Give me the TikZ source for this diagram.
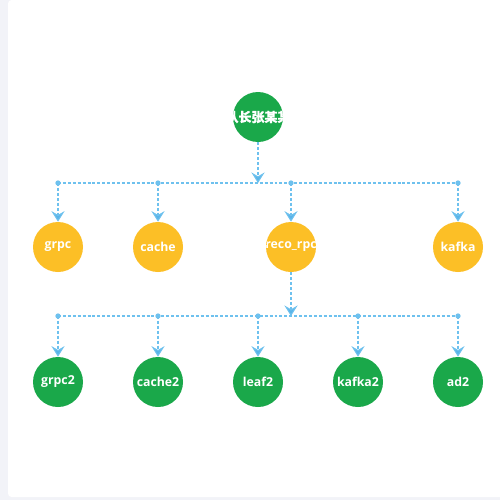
\documentclass[tikz,border=0pt]{standalone}
\usepackage{fontspec}
\setsansfont{Open Sans}
\newfontfamily\cjk{Noto Sans CJK SC}[FakeBold=0.8]
\usepackage{tikz}
\usetikzlibrary{arrows.meta,positioning}
\definecolor{leafgreen}{HTML}{1AA84A}
\definecolor{midyellow}{HTML}{FCBF26}
\definecolor{linkblue}{HTML}{6EC1EE}
\definecolor{tipblue}{HTML}{5AB4E8}
\definecolor{pagegray}{HTML}{F2F3F8}

\begin{document}
\begin{tikzpicture}[x=0.2mm, y=-0.2mm,
        member/.style={circle, minimum size=10mm, inner sep=0pt, text=white, font=\sffamily\bfseries\fontsize{7}{8}\selectfont},
        greenball/.style={member, fill=leafgreen},
        yellowball/.style={member, fill=midyellow},
        clipped/.style={path picture={\node[text=white] at (path picture bounding box.center) {#1};}},
        bus/.style={draw=linkblue, line width=0.6pt, dash pattern=on 1.7pt off 1.1pt},
        link/.style={bus, -{Stealth[length=6pt, width=7.5pt, inset=2.2pt, fill=tipblue]}},
        dot/.style={circle, fill=linkblue, inner sep=0pt, minimum size=3pt}
    ]
    \useasboundingbox (0,0) rectangle (500,500);
    % Fond et carte
    \fill[pagegray] (0,0) rectangle (500,500);
    \fill[white, rounded corners=2pt] (8,0) rectangle (520,497);

    % Racine
    \node[greenball, clipped={\cjk\fontsize{7.4}{8}\selectfont 队长张某某}] (root) at (258,117) {};

    % Niveau 1
    \node[yellowball] (grpc) at (58,247) {grpc};
    \node[yellowball] (cache) at (158,247) {cache};
    \node[yellowball, clipped={reco\_rpc}] (reco) at (291,247) {};
    \node[yellowball] (kafka) at (458,247) {kafka};

    % Niveau 2
    \node[greenball] (grpc2) at (58,382) {grpc2};
    \node[greenball] (cache2) at (158,382) {cache2};
    \node[greenball] (leaf2) at (258,382) {leaf2};
    \node[greenball] (kafka2) at (358,382) {kafka2};
    \node[greenball] (ad2) at (458,382) {ad2};

    % Bus du premier niveau
    \coordinate (hub1) at (258,183);
    \node[dot] (a1) at (58,183) {};
    \node[dot] (a2) at (158,183) {};
    \node[dot] (a3) at (291,183) {};
    \node[dot] (a4) at (458,183) {};
    \draw[bus] (a1.center) -- (a4.center);
    \draw[link] (root) -- (hub1);
    \draw[link] (a1.center) -- (grpc);
    \draw[link] (a2.center) -- (cache);
    \draw[link] (a3.center) -- (reco);
    \draw[link] (a4.center) -- (kafka);

    % Bus du second niveau
    \coordinate (hub2) at (291,316);
    \node[dot] (b1) at (58,316) {};
    \node[dot] (b2) at (158,316) {};
    \node[dot] (b3) at (258,316) {};
    \node[dot] (b4) at (358,316) {};
    \node[dot] (b5) at (458,316) {};
    \draw[bus] (b1.center) -- (b5.center);
    \draw[link] (reco) -- (hub2);
    \draw[link] (b1.center) -- (grpc2);
    \draw[link] (b2.center) -- (cache2);
    \draw[link] (b3.center) -- (leaf2);
    \draw[link] (b4.center) -- (kafka2);
    \draw[link] (b5.center) -- (ad2);

\end{tikzpicture}
\end{document}
